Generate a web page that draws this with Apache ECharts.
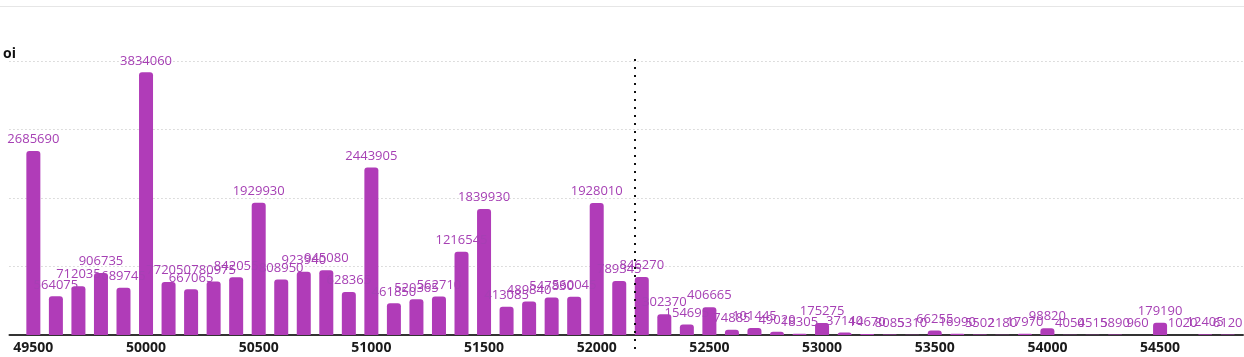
<!DOCTYPE html>
<html>
<head>
<meta charset="utf-8">
<script src="https://cdn.jsdelivr.net/npm/echarts@6/dist/echarts.min.js"></script>
<style>
  html, body { margin: 0; padding: 0; background: #fff; }
  #chart { width: 1244px; height: 357px; }
</style>
</head>
<body>
<div id="chart"></div>
<script>
const strikes = [
  49500, 49600, 49700, 49800, 49900, 50000, 50100, 50200, 50300, 50400,
  50500, 50600, 50700, 50800, 50900, 51000, 51100, 51200, 51300, 51400,
  51500, 51600, 51700, 51800, 51900, 52000, 52100, 52200, 52300, 52400,
  52500, 52600, 52700, 52800, 52900, 53000, 53100, 53200, 53300, 53400,
  53500, 53600, 53700, 53800, 53900, 54000, 54100, 54200, 54300, 54400,
  54500, 54600, 54700, 54800
];
const oiValues = [
  2685690, 564075, 712035, 906735, 689745, 3834060, 772050, 667065, 780975, 842055,
  1929930, 808950, 923940, 945080, 628365, 2443905, 461850, 520365, 562710, 1216545,
  1839930, 413085, 489840, 547830, 560045, 1928010, 789345, 846270, 302370, 154695,
  406665, 74885, 101445, 49020, 18305, 175275, 37140, 14670, 8085, 5310,
  66255, 16990, 5502, 2180, 17970, 98820, 4050, 4515, 5890, 960,
  179190, 1020, 12405, 6120
];
const xTickLabels = [49500, 50000, 50500, 51000, 51500, 52000, 52500, 53000, 53500, 54000, 54500];
const spotPrice = 52170;

const chart = echarts.init(document.getElementById('chart'));
const barData = strikes.map((s, i) => [s, oiValues[i]]);

chart.setOption({
  animation: false,
  grid: { left: 8, right: 1, top: 61, bottom: 22 },
  xAxis: {
    type: 'value',
    min: 49394,
    max: 54868,
    axisLine: { show: true, lineStyle: { color: '#333', width: 2 } },
    axisTick: { show: false },
    splitLine: { show: false },
    axisLabel: {
      customValues: xTickLabels,
      formatter: v => String(v),
      color: '#1a1a1a',
      fontWeight: 'bold',
      fontSize: 14,
      fontFamily: 'Open Sans',
      margin: 6
    }
  },
  yAxis: {
    type: 'value',
    min: 0,
    max: 4000000,
    interval: 1000000,
    name: 'oi',
    nameLocation: 'end',
    nameGap: 0,
    nameTextStyle: { color: '#111', fontWeight: 'bold', fontSize: 14, fontFamily: 'Open Sans', align: 'center' },
    axisLine: { show: false },
    axisTick: { show: false },
    axisLabel: { show: false },
    splitLine: { show: true, lineStyle: { color: '#bdbdbd', type: [1, 3], width: 1 } }
  },
  series: [{
    type: 'bar',
    data: barData,
    barWidth: 14,
    itemStyle: { color: '#b03cb8', borderRadius: [3, 3, 0, 0] },
    label: {
      show: true,
      position: 'top',
      color: '#a640b4',
      fontSize: 13,
      fontFamily: 'Open Sans',
      distance: 5
    }
  }]
});

const px = chart.convertToPixel({ xAxisIndex: 0 }, spotPrice);
const yTop = chart.convertToPixel({ yAxisIndex: 0 }, 4000000) - 2;
const yBot = chart.convertToPixel({ yAxisIndex: 0 }, 0) + 15;
chart.setOption({
  graphic: [
    {
      type: 'line',
      shape: { x1: 0, y1: 6.5, x2: 1244, y2: 6.5 },
      style: { stroke: '#e6e6e6', lineWidth: 1 },
      silent: true
    },
    {
      type: 'line',
      shape: { x1: Math.round(px), y1: yTop, x2: Math.round(px), y2: yBot },
      style: { stroke: '#111', lineWidth: 2, lineDash: [2, 6] },
      silent: true,
      z: 10
    }
  ]
});
</script>
</body>
</html>
